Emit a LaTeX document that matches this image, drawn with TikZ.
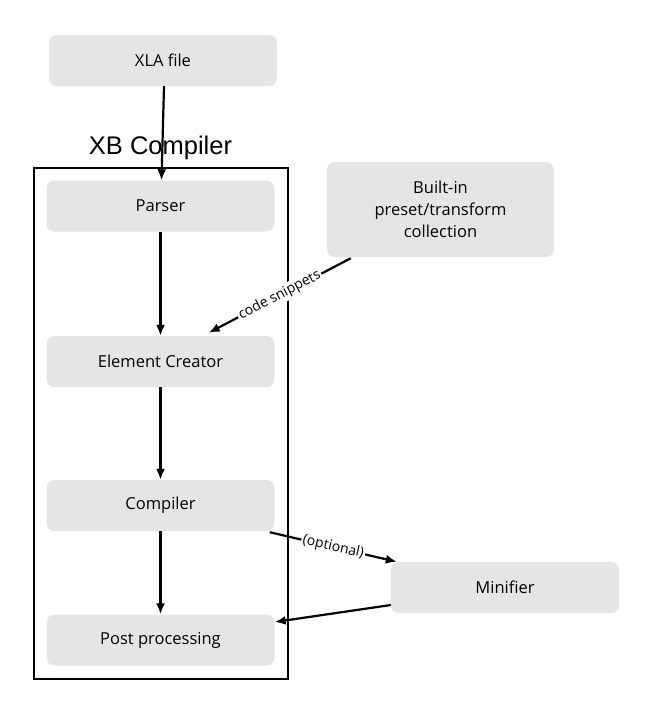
\documentclass[tikz,border=0pt]{standalone}
\usepackage{fontspec}
\setmainfont{Open Sans}
\newfontfamily\titlefont{Liberation Sans}
\usetikzlibrary{arrows.meta}
\begin{document}
\begin{tikzpicture}[x=1pt,y=-1pt,
  box/.style={fill=black!10, rounded corners=8pt, minimum width=228pt, minimum height=51pt, inner sep=0pt, align=center, font=\fontsize{16.5}{22}\selectfont},
  conn/.style={line width=2.2pt, -{Latex[length=11pt,width=9pt]}},
  lbl/.style={fill=white, inner sep=1.5pt, sloped, font=\fontsize{14}{16}\selectfont}]
\useasboundingbox (0,0) rectangle (654,716);
\node[box] (xla) at (163,60.5) {XLA file};
\node[font=\titlefont\fontsize{25.5}{28}\selectfont] (title) at (160.5,148) {XB Compiler};
\draw[line width=2.2pt] (34,168) rectangle (288,679);
\node[box] (parser) at (160.5,206) {Parser};
\node[box] (ec) at (160.5,361.5) {Element Creator};
\node[box] (comp) at (160.5,505.5) {Compiler};
\node[box] (post) at (160.5,640) {Post processing};
\node[box, minimum width=227pt, minimum height=95pt] (builtin) at (440.5,209.5) {Built-in\\preset/transform\\collection};
\node[box] (mini) at (505,587.5) {Minifier};
\draw[conn] ([xshift=1pt]xla.south) -- ([xshift=1pt]parser.north);
\draw[conn] (parser) -- (ec);
\draw[conn] (ec) -- (comp);
\draw[conn] (comp) -- (post);
\draw[conn] ([xshift=24pt,yshift=-1pt]builtin.south west) -- node[lbl] {code snippets} ([xshift=-66pt,yshift=3pt]ec.north east);
\draw[conn] ([xshift=-5pt,yshift=-1pt]comp.south east) -- node[lbl] {(optional)} ([xshift=6pt]mini.north west);
\draw[conn] ([yshift=-17.5pt]mini.west) -- ([yshift=18pt]post.east);
\end{tikzpicture}
\end{document}
